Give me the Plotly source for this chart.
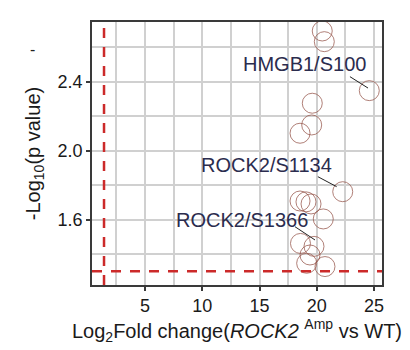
import plotly.graph_objects as go

# Data (log2 fold change, -log10 p value)
log2fc = [20.48, 20.66, 24.59, 19.61, 19.56, 18.54, 22.27, 18.54, 19.06, 19.50,
          20.57, 18.58, 19.76, 19.41, 19.12, 20.72]
neglog10p = [2.694, 2.632, 2.348, 2.275, 2.149, 2.101, 1.762, 1.708, 1.703, 1.691,
             1.604, 1.462, 1.445, 1.395, 1.347, 1.328]
site_names = ["", "", "HMGB1/S100", "", "", "", "ROCK2/S1134", "", "", "",
              "", "", "ROCK2/S1366", "", "", ""]

x_threshold = 1.42
y_threshold = 1.301
x_tick_step = 5
y_tick_step = 0.4

# label placement: (text dx, text dy, line-start dx, line-start dy, line-end dx, line-end dy) in data units
label_offsets = {
    "HMGB1/S100": (-5.62, 0.155, -1.69, 0.081, -0.11, 0.015),
    "ROCK2/S1134": (-6.66, 0.155, -2.17, 0.087, -0.53, 0.029),
    "ROCK2/S1366": (-6.33, 0.153, -1.66, 0.114, 0.09, 0.037),
}

FONT = "Liberation Sans, Arial, sans-serif"
GRID = "#d0d0d0"

fig = go.Figure()
fig.add_trace(go.Scatter(
    x=log2fc, y=neglog10p, mode="markers",
    marker=dict(size=20, symbol="circle-open",
                line=dict(color="rgba(150,85,75,0.75)", width=1),
                color="rgba(150,85,75,0.75)"),
    showlegend=False, hoverinfo="skip"))

fig.add_vline(x=x_threshold, opacity=1, layer="above",
              line=dict(color="#cc2a2a", width=2.5, dash="10px,9px"))
fig.add_hline(y=y_threshold, opacity=1, layer="above",
              line=dict(color="#cc2a2a", width=2.5, dash="10px,9px"))

for xv, yv, name in zip(log2fc, neglog10p, site_names):
    if not name:
        continue
    tdx, tdy, sdx, sdy, edx, edy = label_offsets[name]
    fig.add_shape(type="line", xref="x", yref="y", opacity=1, layer="above",
                  x0=xv + sdx, y0=yv + sdy, x1=xv + edx, y1=yv + edy,
                  line=dict(color="#222222", width=1))
    fig.add_annotation(x=xv + tdx, y=yv + tdy, text=name, showarrow=False,
                       xanchor="center", yanchor="middle",
                       font=dict(family=FONT, size=20, color="#2b2c4e"))

# stray dash seen at top-left of the reference
fig.add_annotation(x=(35 - 92) / 290, y=(350 - 65 - 52) / 263, xref="paper", yref="paper",
                   text="-", showarrow=False, xanchor="center", yanchor="middle",
                   xshift=-3, yshift=2,
                   font=dict(family=FONT, size=16, color="#222"))

axis_common = dict(
    showline=True, linecolor="#3a3a3a", linewidth=1.5, mirror=True,
    showgrid=True, gridcolor=GRID, gridwidth=2,
    ticks="outside", ticklen=4, tickwidth=1.5, tickcolor="#3a3a3a",
    zeroline=False,
    tickfont=dict(family=FONT, size=18, color="#1a1a1a"),
)

fig.update_layout(
    template="simple_white",
    width=410, height=350,
    margin=dict(l=92, r=28, t=22, b=65),
    paper_bgcolor="white", plot_bgcolor="white",
    xaxis=dict(range=[0.37, 25.7], tickmode="linear", tick0=0, dtick=x_tick_step,
               minor=dict(dtick=x_tick_step / 2, tick0=0, showgrid=True,
                          gridcolor=GRID, gridwidth=2, ticks=""),
               title=dict(text="Log<sub>2</sub>Fold change(<i>ROCK2</i> <sup>Amp</sup> vs WT)",
                          font=dict(family=FONT, size=20, color="#1a1a1a"),
                          standoff=6),
               **axis_common),
    yaxis=dict(range=[1.221, 2.746], tickmode="linear", tick0=0.4, dtick=y_tick_step,
               tickformat=".1f",
               minor=dict(dtick=y_tick_step / 2, tick0=0, showgrid=True,
                          gridcolor=GRID, gridwidth=2, ticks=""),
               title=dict(text="-Log<sub>10</sub>(p value)",
                          font=dict(family=FONT, size=20, color="#1a1a1a"),
                          standoff=12),
               **axis_common),
)

fig.write_html("out.html")
